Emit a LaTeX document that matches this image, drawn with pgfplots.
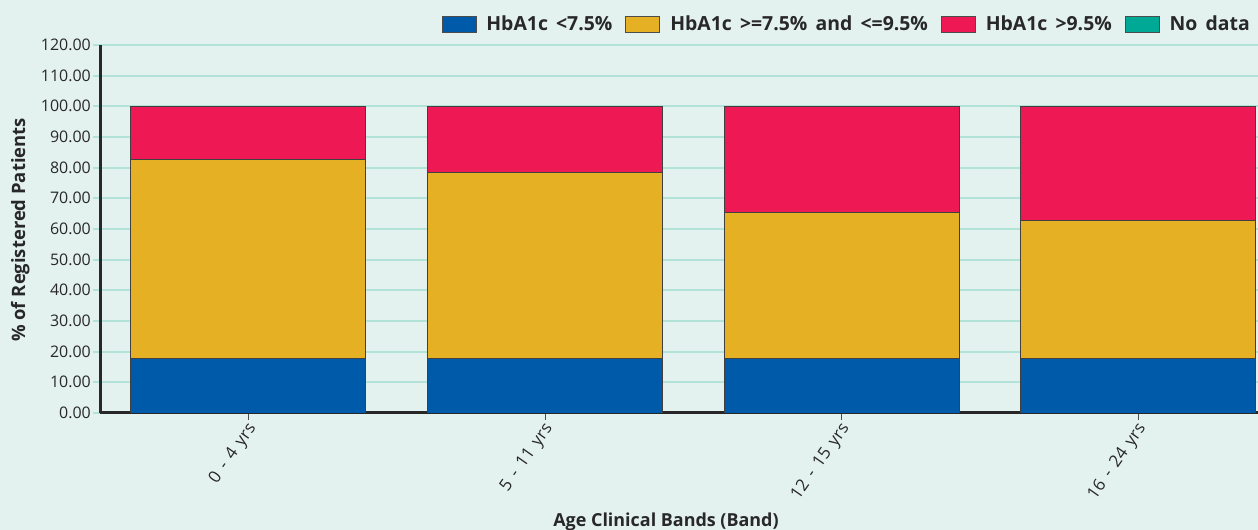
\documentclass[border=0pt]{standalone}
\usepackage{fontspec}
\setmainfont{Open Sans}
\usepackage{pgfplots}
\pgfplotsset{compat=1.18}

\definecolor{bgmint}{RGB}{228,242,239}
\definecolor{gridteal}{RGB}{178,226,216}
\definecolor{hbblue}{RGB}{0,90,170}
\definecolor{hbgold}{RGB}{229,176,35}
\definecolor{hbred}{RGB}{238,25,84}
\definecolor{hbteal}{RGB}{0,168,150}
\definecolor{txt}{RGB}{40,40,40}
\newcommand{\ticklabelfont}{\fontsize{17}{17}\selectfont\spaceskip=0.4em\relax}
\newcommand{\legendfont}{\bfseries\fontsize{19.5}{19.5}\selectfont\spaceskip=0.42em\relax}

\begin{document}
\begin{tikzpicture}[x=1bp,y=1bp]
\path[fill=bgmint,use as bounding box] (0,0) rectangle (1258,530);
\begin{axis}[
  at={(100bp,117bp)}, anchor=south west,
  scale only axis, width=1158bp, height=368bp,
  xmin=-0.5, xmax=3.404, ymin=0, ymax=120,
  ybar stacked, bar width=235bp,
  axis x line*=bottom, axis y line*=left,
  axis line style={-, line width=3bp, color=txt},
  ytick={0,10,...,120},
  xtick={0,1,2,3},
  xticklabels={0 - 4 yrs, 5 - 11 yrs, 12 - 15 yrs, 16 - 24 yrs},
  tick align=outside, xtick pos=bottom, ytick pos=left,
  major tick length=7bp,
  x tick style={black!70, line width=0.8bp},
  y tick style={gridteal, line width=2bp},
  ymajorgrids, grid style={gridteal, line width=2bp},
  /pgf/number format/assume math mode=true,
  scaled y ticks=false,
  yticklabel style={/pgf/number format/.cd, fixed, fixed zerofill, precision=2,
    /tikz/.cd, font=\fontsize{16}{16}\selectfont, text=txt, inner sep=2bp},
  xticklabel style={rotate=55, anchor=east, font=\ticklabelfont, text=txt, inner sep=2bp, yshift=-7bp},
  legend style={at={(0.9974,1.057)}, anchor=east, draw=none, fill=none,
    font=\legendfont, text=txt,
    /tikz/every odd column/.append style={column sep=8bp},
    /tikz/every even column/.append style={column sep=11bp}},
  legend columns=4,
  legend image code/.code={\draw[#1,draw=black!70,line width=0.8bp] (0bp,-8bp) rectangle (34bp,8bp);},
  every axis plot/.append style={draw=black!75, line width=0.8bp},
]
\addplot[fill=hbblue] coordinates {(0,17.7) (1,17.7) (2,17.7) (3,17.7)};
\addlegendentry{HbA1c <7.5\%}
\addplot[fill=hbgold] coordinates {(0,64.9) (1,60.6) (2,47.6) (3,45.0)};
\addlegendentry{HbA1c >=7.5\% and <=9.5\%}
\addplot[fill=hbred] coordinates {(0,17.4) (1,21.7) (2,34.7) (3,37.3)};
\addlegendentry{HbA1c >9.5\%}
\addlegendimage{fill=hbteal}
\addlegendentry{No data}
\end{axis}
\node[rotate=90, anchor=base, font=\bfseries\fontsize{18.5}{18.5}\selectfont, text=txt] at (25,300) {\% of Registered Patients};
\node[anchor=base, font=\bfseries\fontsize{18}{18}\selectfont, text=txt] at (666,3) {Age Clinical Bands (Band)};
\end{tikzpicture}
\end{document}
